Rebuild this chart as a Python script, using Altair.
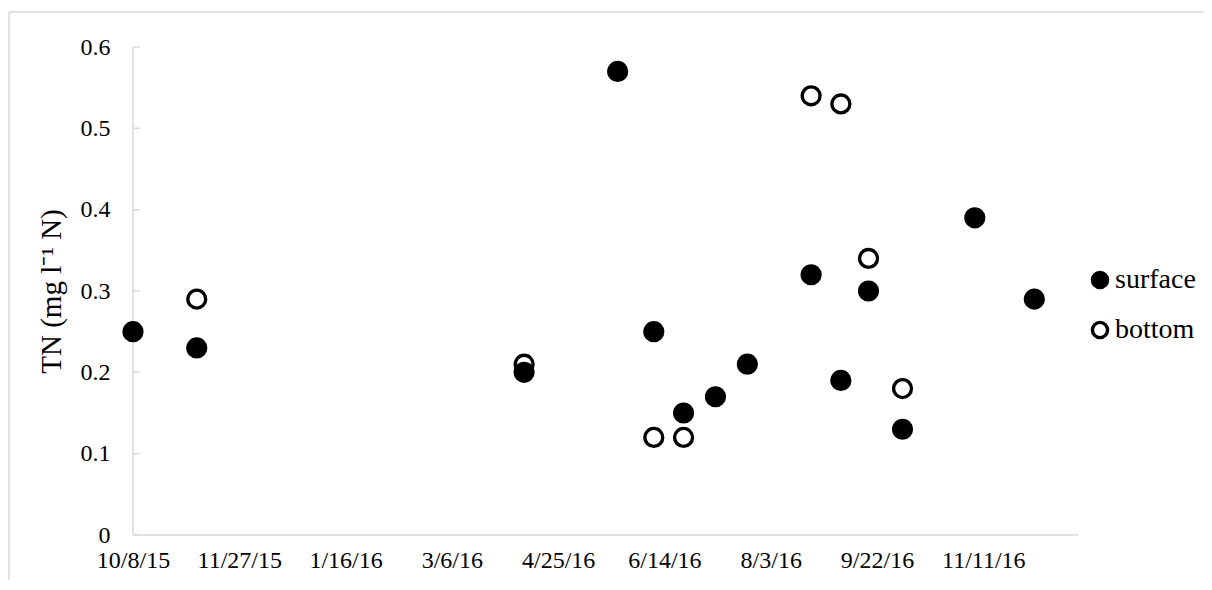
import altair as alt
import pandas as pd

# ---- data ----
surface_dates = ["2015-10-08", "2015-11-07", "2016-04-09", "2016-05-23", "2016-06-09",
                 "2016-06-23", "2016-07-08", "2016-07-23", "2016-08-22", "2016-09-05",
                 "2016-09-18", "2016-10-04", "2016-11-07", "2016-12-05"]
surface_tn = [0.25, 0.23, 0.20, 0.57, 0.25, 0.15, 0.17, 0.21, 0.32, 0.19, 0.30, 0.13, 0.39, 0.29]

bottom_dates = ["2015-11-07", "2016-04-09", "2016-06-09", "2016-06-23", "2016-08-22",
                "2016-09-05", "2016-09-18", "2016-10-04"]
bottom_tn = [0.29, 0.21, 0.12, 0.12, 0.54, 0.53, 0.34, 0.18]

series_names = ["surface", "bottom"]
x_tick_dates = ["2015-10-08", "2015-11-27", "2016-01-16", "2016-03-06", "2016-04-25",
                "2016-06-14", "2016-08-03", "2016-09-22", "2016-11-11"]
x_domain_dates = ["2015-10-08", "2016-12-26"]
y_ticks = [0, 0.1, 0.2, 0.3, 0.4, 0.5, 0.6]

y_title = "TN (mg l\u207b\u00b9 N)"

FONT = "Liberation Serif"
AXIS_GREY = "#d9d9d9"
W, H = 946, 488


def ms(d):
    return int(pd.Timestamp(d, tz="UTC").timestamp() * 1000)


df = pd.concat([
    pd.DataFrame({"date": bottom_dates, "tn": bottom_tn, "series": "bottom"}),
    pd.DataFrame({"date": surface_dates, "tn": surface_tn, "series": "surface"}),
], ignore_index=True)

x_enc = alt.X(
    "date:T",
    scale=alt.Scale(type="utc", domain=[ms(d) for d in x_domain_dates]),
    axis=alt.Axis(
        values=[ms(d) for d in x_tick_dates],
        labelExpr="utcFormat(datum.value, '%-m/%-d/%y')",
        title=None, grid=False, ticks=False, domain=False,
        labelFont=FONT, labelFontSize=24, labelColor="black",
        labelPadding=13, labelFlush=False, labelOverlap=False,
    ),
)

y_axis = alt.Axis(
    values=y_ticks, format="~g",
    title=y_title, titleFont=FONT, titleFontSize=29, titleFontWeight="normal",
    titleColor="black", titleAngle=270, titleX=-82, titleY=244,
    titleAlign="center", titleBaseline="middle",
    grid=False, ticks=False, domain=False,
    labelFont=FONT, labelFontSize=24, labelColor="black", labelPadding=23,
)
y_scale = alt.Scale(domain=[0, 0.6], nice=False, zero=True)

points = alt.Chart(df).mark_point(
    shape="circle", size=320, strokeWidth=3.3, stroke="black", opacity=1, filled=False
).encode(
    x=x_enc,
    y=alt.Y("tn:Q", scale=y_scale, axis=y_axis),
    fill=alt.Fill(
        "series:N",
        scale=alt.Scale(domain=series_names, range=["black", "transparent"]),
        legend=alt.Legend(
            title=None, orient="none", legendX=953, legendY=219,
            labelFont=FONT, labelFontSize=28, labelColor="black",
            symbolType="circle", symbolSize=230, symbolStrokeWidth=3.4,
            symbolStrokeColor="black", rowPadding=20, labelOffset=1, labelLimit=300,
        ),
    ),
    order=alt.Order("series:N", sort="ascending"),
)

one = pd.DataFrame({"a": [0]})

# axis lines drawn as rules (left and bottom only)
y_axis_line = alt.Chart(one).mark_rule(color=AXIS_GREY, strokeWidth=1.5).encode(
    x=alt.value(0), y=alt.value(0), y2=alt.value(H)
)
x_axis_line = alt.Chart(one).mark_rule(color=AXIS_GREY, strokeWidth=1.5).encode(
    x=alt.value(0), x2=alt.value(W), y=alt.value(H)
)

tick_df = pd.DataFrame({"tn": y_ticks})
y_tick_marks = alt.Chart(tick_df).mark_rule(color=AXIS_GREY, strokeWidth=1.5).encode(
    x=alt.value(0), x2=alt.value(7), y=alt.Y("tn:Q", scale=y_scale, axis=y_axis)
)

frame_top = alt.Chart(one).mark_rule(color=AXIS_GREY, strokeWidth=1.5).encode(
    x=alt.value(-124), x2=alt.value(1300), y=alt.value(-35)
)
frame_left = alt.Chart(one).mark_rule(color=AXIS_GREY, strokeWidth=1.5).encode(
    x=alt.value(-124), y=alt.value(-35), y2=alt.value(700)
)

chart = alt.layer(
    frame_top, frame_left, y_axis_line, x_axis_line, y_tick_marks, points
).properties(
    width=W, height=H,
    background="white",
    autosize=alt.AutoSizeParams(type="none"),
    padding={"left": 125, "top": 39, "right": 125, "bottom": 45},
).configure_view(
    stroke=None, strokeWidth=0
).configure_axisTop(
    domain=False, ticks=False, labels=False, grid=False
).configure_axisRight(
    domain=False, ticks=False, labels=False, grid=False
).configure_legend(
    labelFont=FONT, labelFontSize=28, labelColor="black"
)

chart.save("out.html", embed_options={"renderer": "svg", "actions": False})
